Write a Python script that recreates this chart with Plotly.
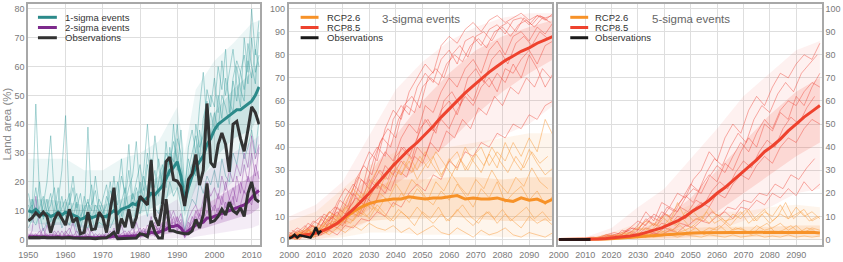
import plotly.graph_objects as go

# ---------------- DATA ----------------
years_hist = list(range(1950, 2013))
obs_1sigma = [6.5, 7.5, 9.3, 8, 9.5, 8, 2.4, 7, 9.5, 7,
              5, 10.5, 6, 7.6, 2, 2.5, 9.5, 3.4, 3.7, 9.5,
              7.6, 2.4, 10.5, 18, 2, 7.3, 4.3, 10.5, 4, 7.6,
              15, 13.6, 12, 27.6, 8, 4.8, 12, 27, 28.6, 20.8,
              20.3, 18.3, 11.6, 20.8, 22.8, 29.5, 18.9, 24, 47.2, 26.7,
              25, 33, 37, 33, 23.5, 40, 41, 35, 30.6, 38,
              46, 44, 40]
obs_2sigma = [0.6, 0.7, 0.7, 0.6, 0.8, 0.6, 0.5, 0.6, 0.7, 0.5,
              0.6, 0.7, 0.5, 0.4, 0.3, 0.4, 0.5, 0.3, 0.3, 0.4,
              0.5, 0.6, 1.5, 2.5, 0.3, 0.3, 0.4, 0.3, 0.3, 0.5,
              2, 1.7, 1, 6.5, 2.5, 0.5, 0.5, 14, 3, 3,
              2.5, 2.2, 2, 2, 3, 7, 4, 8.5, 19.5, 6,
              6.5, 8, 10.5, 8.5, 13, 10, 9, 11, 8, 16,
              20, 14, 13]
mean_1sigma = [10, 9.5, 10.5, 9, 8.5, 9, 8, 8.5, 9.5, 8.5,
               9.5, 9, 8.5, 8, 7, 7.5, 8.5, 7.5, 8, 8.5,
               8, 8, 9, 10, 9, 10.5, 11, 11.5, 12.5, 12,
               14, 13.5, 14.5, 16, 15.5, 17, 18.5, 21, 24, 25,
               27, 22, 13, 18, 22, 25, 27, 29, 33, 35,
               38, 40, 41, 42, 43, 44, 45, 45, 46, 47,
               48, 50, 53]
mean_2sigma = [1, 1, 1.2, 1, 0.9, 1, 0.8, 0.9, 1, 0.8,
               0.9, 1, 0.8, 0.7, 0.5, 0.6, 0.7, 0.6, 0.6, 0.7,
               0.7, 0.8, 0.9, 1.2, 0.8, 1, 1.1, 1, 1.2, 1.3,
               1.6, 1.6, 1.8, 2.5, 2.2, 2.5, 3, 3.5, 4.5, 4.5,
               5, 4, 2, 3, 4, 5, 5.5, 6, 7.5, 7.5,
               8, 8.5, 9, 9.5, 10, 10.5, 11, 11.5, 12, 13,
               14.5, 16, 17]

# a few individual model runs, 1-sigma events (1950-2012)
members_1sigma = [
    [12, 8, 47, 15, 9, 14, 6, 10, 18, 7,
     11, 16, 8, 13, 4, 9, 14, 7, 12, 10,
     8, 15, 11, 22, 9, 13, 18, 10, 16, 12,
     20, 14, 26, 18, 24, 15, 22, 30, 26, 34,
     28, 22, 10, 24, 30, 36, 28, 42, 48, 35,
     44, 38, 50, 46, 40, 55, 48, 58, 52, 62,
     56, 66, 60],
    [6, 14, 10, 20, 7, 11, 16, 8, 13, 24,
     43, 12, 18, 9, 6, 15, 10, 19, 8, 14,
     11, 7, 17, 13, 20, 8, 14, 24, 11, 18,
     13, 22, 16, 28, 12, 20, 26, 18, 32, 24,
     35, 30, 14, 20, 26, 22, 38, 30, 36, 44,
     38, 50, 42, 56, 48, 44, 60, 52, 48, 68,
     60, 54, 72],
    [16, 10, 18, 8, 12, 20, 36, 14, 9, 15,
     8, 13, 22, 11, 16, 7, 39, 12, 17, 9,
     14, 19, 10, 15, 12, 22, 16, 33, 14, 20,
     26, 17, 30, 21, 36, 25, 18, 34, 22, 40,
     24, 38, 18, 28, 22, 40, 32, 36, 52, 46,
     56, 44, 62, 50, 58, 66, 54, 46, 70, 58,
     80, 64, 76],
    [4, 7, 5, 9, 3, 6, 8, 5, 10, 4,
     7, 5, 9, 3, 1, 5, 4, 8, 3, 6,
     5, 9, 4, 7, 10, 6, 12, 8, 5, 11,
     9, 14, 8, 16, 11, 9, 15, 13, 20, 15,
     18, 12, 3, 10, 14, 12, 20, 16, 22, 19,
     24, 18, 28, 22, 20, 30, 26, 34, 28, 32,
     38, 30, 42],
    [10, 12, 8, 11, 15, 9, 12, 18, 7, 11,
     14, 9, 12, 16, 8, 11, 13, 10, 22, 12,
     9, 12, 20, 10, 16, 28, 12, 18, 22, 34,
     16, 24, 40, 22, 18, 28, 20, 24, 30, 27,
     40, 26, 16, 32, 38, 30, 46, 58, 40, 50,
     46, 60, 52, 66, 44, 56, 62, 58, 64, 54,
     70, 58, 64],
]
members_2sigma = [
    [0.5, 3, 15, 4, 1, 2, 0.5, 1, 3, 0.5,
     2, 4, 1, 0.5, 0, 1, 2, 0.5, 1, 0.5,
     1, 2, 0.5, 4, 1, 2, 3, 1, 2, 1,
     3, 2, 5, 3, 6, 2, 4, 8, 5, 6,
     5, 7, 2, 4, 6, 8, 5, 10, 14, 9,
     12, 9, 15, 11, 14, 18, 13, 20, 16, 22,
     18, 26, 21],
    [2, 0.5, 1, 3, 0.5, 5, 1, 2, 0.5, 1,
     0.5, 2, 6, 1, 0.5, 2, 1, 3, 0.5, 1,
     2, 0.5, 1, 2, 0.5, 5, 1, 3, 0.5, 6,
     2, 4, 1, 6, 3, 4, 2, 5, 10, 4,
     8, 4, 1, 6, 4, 10, 7, 9, 16, 12,
     10, 16, 12, 20, 14, 12, 22, 16, 26, 20,
     30, 22, 32],
    [1, 2, 0.5, 1, 4, 0.5, 2, 1, 0.5, 3,
     1, 0.5, 1, 3, 0.5, 1, 4, 0.5, 2, 1,
     0.5, 3, 1, 0.5, 2, 1, 0.5, 2, 4, 1,
     1, 3, 2, 8, 1, 3, 5, 3, 4, 8,
     3, 6, 0.5, 3, 8, 5, 9, 6, 10, 7,
     8, 11, 7, 13, 10, 15, 9, 12, 17, 14,
     12, 18, 15],
    [0.5, 1, 2, 0.5, 1, 1, 0.5, 3, 1, 0.5,
     3, 1, 0.5, 1, 2, 0.5, 1, 1, 0.5, 2,
     1, 1, 3, 1, 0.5, 1, 2, 0.5, 1, 2,
     4, 2, 3, 4, 5, 3, 6, 4, 7, 10,
     6, 9, 3, 7, 10, 12, 8, 14, 20, 15,
     18, 14, 22, 17, 24, 20, 26, 22, 30, 25,
     36, 28, 33],
]

# model spread envelopes, 1950-2012
band_years_hist = [1950, 1955, 1960, 1965, 1970, 1975, 1980, 1985, 1990, 1992, 1995, 2000, 2005, 2010, 2012]
s1_outer_hi = [28, 28, 28, 24, 24, 28, 30, 34, 46, 30, 52, 62, 68, 75, 76]
s1_outer_lo = [3, 2, 2, 1, 1, 2, 4, 6, 8, 2, 10, 14, 20, 26, 30]
s1_inner_hi = [14, 14, 13, 12, 12, 14, 17, 22, 32, 18, 32, 44, 52, 58, 62]
s1_inner_lo = [6, 5, 5, 4, 4, 6, 9, 12, 18, 8, 18, 28, 35, 38, 44]
s2_outer_hi = [5, 6, 6, 5, 5, 6, 8, 10, 14, 6, 20, 26, 30, 34, 36]
s2_outer_lo = [0, 0, 0, 0, 0, 0, 0, 0, 0.5, 0, 1, 2, 3, 4, 5]
s2_inner_hi = [2, 2, 2, 1.5, 1.5, 2, 3, 5, 8, 3, 10, 14, 18, 22, 24]
s2_inner_lo = [0.3, 0.3, 0.3, 0.2, 0.2, 0.3, 0.6, 1.5, 2.5, 0.8, 3, 5, 7, 9, 11]

# ---- projections (2000-2099) ----
years_obs_fut = list(range(2000, 2013))
obs_3sigma = [0.5, 1, 2, 0.8, 1.8, 1.5, 1.2, 1, 0.8, 2.5, 5.3, 2.5, 3.8]
obs_5sigma = [0, 0, 0, 0, 0, 0, 0, 0, 0, 0, 0, 0, 0]

years_fut = list(range(2000, 2100, 3))     # 34 years
years_fut_b = list(range(2001, 2100, 3))   # 33 years
years_fut_c = list(range(2002, 2100, 3))   # 33 years

mean_3sigma_rcp85 = [1, 1.5, 2, 2.5, 3.5, 5, 7, 10, 13, 16.5,
                     20, 24, 28, 32, 35.5, 39, 42, 45.5, 49, 53,
                     56.5, 60, 63.5, 66.5, 69.5, 72.5, 75, 77.5, 79.5, 81.5,
                     83, 85, 86.5, 88]
mean_3sigma_rcp26 = [1, 1.5, 2, 2.5, 3.5, 5, 7, 9.5, 12, 14,
                     15.5, 16.5, 17, 17.5, 17.5, 18.5, 18, 17.5, 18, 18,
                     18.5, 19, 17.5, 18, 17.5, 17.5, 18, 17, 16.5, 18,
                     17, 17.5, 16, 17.5]
mean_5sigma_rcp85 = [0, 0, 0, 0, 0, 0.2, 0.4, 0.7, 1, 1.5,
                     2, 3, 4, 5, 6.5, 8, 10, 12.5, 14.5, 17,
                     20, 22.5, 25.5, 28.5, 31.5, 34.5, 38, 40.5, 43.5, 47,
                     50, 53, 55.5, 58]
mean_5sigma_rcp26 = [0, 0, 0, 0, 0, 0.1, 0.2, 0.4, 0.6, 0.8,
                     1, 1.3, 1.6, 1.9, 2.2, 2.5, 2.7, 2.8, 2.9, 3,
                     3, 3.1, 3, 3, 3.1, 3, 3, 3.1, 3, 3,
                     3.2, 3, 3.1, 2.8]

members_3sigma_rcp85 = [
    [2, 5, 3, 8, 6, 12, 10, 18, 24, 20, 34, 40, 36, 52, 58, 54, 66, 72, 68, 78,
     82, 76, 86, 88, 84, 91, 93, 89, 95, 96, 93, 97, 95, 98],
    [1, 3, 6, 2, 9, 5, 14, 11, 16, 26, 22, 30, 38, 34, 44, 50, 46, 58, 55, 64,
     70, 66, 74, 78, 72, 82, 86, 80, 88, 90, 86, 92, 89, 94],
    [0, 2, 1, 4, 3, 7, 5, 9, 14, 11, 18, 24, 20, 28, 34, 30, 40, 36, 46, 52,
     48, 56, 62, 58, 66, 70, 64, 74, 72, 78, 82, 76, 84, 86],
    [1, 0, 3, 1, 2, 4, 2, 6, 5, 9, 8, 12, 10, 16, 14, 20, 24, 21, 28, 26,
     34, 31, 38, 36, 42, 40, 46, 44, 50, 48, 54, 52, 58, 60],
    [3, 1, 4, 6, 2, 8, 12, 7, 20, 16, 26, 22, 32, 28, 40, 36, 44, 52, 47, 56,
     60, 54, 64, 60, 70, 66, 72, 68, 76, 70, 80, 74, 66, 72],
    [0, 4, 2, 7, 10, 8, 16, 22, 19, 30, 38, 34, 48, 56, 52, 64, 70, 76, 72, 84,
     88, 85, 91, 94, 90, 95, 97, 94, 96, 98, 95, 97, 96, 97],
]
members_3sigma_rcp85_b = [
    [4, 2, 7, 5, 11, 9, 17, 14, 26, 32, 28, 42, 48, 44, 58, 62, 57, 70, 74, 70,
     80, 84, 79, 88, 90, 86, 92, 94, 90, 96, 93, 97, 95],
    [2, 0, 4, 2, 6, 10, 7, 13, 18, 15, 24, 30, 26, 36, 40, 35, 48, 52, 46, 60,
     64, 58, 70, 74, 68, 78, 82, 76, 85, 88, 84, 90, 87],
]
members_3sigma_rcp85_c = [
    [1, 3, 1, 5, 3, 8, 6, 12, 10, 18, 15, 24, 21, 30, 27, 36, 33, 42, 38, 47,
     44, 52, 48, 57, 54, 62, 58, 66, 63, 70, 66, 74, 70],
    [0, 3, 6, 4, 10, 14, 12, 20, 27, 24, 36, 44, 40, 52, 58, 55, 66, 70, 67, 76,
     80, 77, 84, 87, 83, 90, 92, 88, 93, 95, 92, 96, 94],
]
members_3sigma_rcp26 = [
    [1, 3, 2, 6, 4, 10, 8, 14, 12, 20, 18, 26, 22, 30, 28, 34, 26, 32, 36, 28,
     34, 38, 30, 36, 40, 32, 38, 34, 42, 36, 44, 38, 52, 45],
    [0, 2, 4, 1, 6, 5, 9, 7, 13, 10, 16, 12, 18, 14, 20, 16, 22, 18, 15, 21,
     17, 24, 19, 14, 22, 18, 25, 16, 20, 23, 17, 21, 15, 19],
    [2, 1, 3, 5, 3, 7, 6, 10, 8, 13, 9, 15, 11, 8, 12, 9, 14, 10, 7, 11,
     8, 13, 9, 6, 10, 12, 7, 11, 8, 5, 10, 7, 9, 6],
    [1, 0, 2, 1, 4, 2, 5, 3, 6, 4, 7, 5, 4, 6, 3, 5, 2, 4, 6, 3,
     2, 5, 3, 1, 4, 2, 3, 5, 2, 1, 3, 2, 1, 3],
    [0, 2, 5, 3, 8, 12, 9, 16, 22, 18, 24, 30, 26, 33, 28, 36, 30, 38, 32, 27,
     35, 30, 40, 34, 29, 37, 31, 42, 35, 30, 39, 33, 28, 31],
]
members_3sigma_rcp26_b = [
    [1, 3, 2, 5, 4, 8, 6, 12, 10, 16, 13, 20, 17, 24, 19, 26, 22, 17, 25, 21,
     28, 23, 19, 26, 22, 30, 24, 20, 27, 23, 31, 25, 22],
    [2, 1, 4, 3, 7, 11, 9, 15, 20, 17, 26, 22, 30, 27, 34, 29, 36, 31, 38, 33,
     28, 35, 30, 37, 32, 40, 34, 29, 36, 31, 38, 33, 36],
]
members_3sigma_rcp26_c = [
    [0, 2, 1, 4, 3, 6, 9, 7, 12, 10, 14, 11, 8, 13, 10, 6, 12, 9, 14, 8,
     11, 15, 10, 7, 12, 9, 13, 8, 11, 14, 9, 12, 8],
]
members_5sigma_rcp85 = [
    [0, 0, 0, 0.5, 0, 1, 2, 1, 4, 3, 6, 12, 8, 16, 14, 20, 18, 26, 30, 38,
     34, 44, 50, 46, 56, 62, 58, 66, 72, 70, 76, 80, 78, 85],
    [0, 0, 0, 0, 1, 0.5, 2, 3, 2, 5, 8, 6, 11, 9, 14, 12, 18, 22, 20, 27,
     32, 29, 36, 42, 38, 46, 52, 48, 56, 60, 58, 64, 68, 66],
    [0, 0, 0, 0, 0, 0.5, 0.5, 2, 1, 3, 2, 5, 4, 7, 6, 10, 9, 13, 16, 14,
     20, 18, 24, 28, 26, 32, 36, 33, 40, 44, 42, 48, 52, 50],
    [0, 0, 0, 0, 0, 0, 0.5, 0.5, 1, 0.5, 2, 1, 3, 2, 4, 3, 6, 5, 8, 7,
     10, 12, 9, 14, 13, 17, 15, 20, 18, 22, 19, 25, 21, 24],
    [0, 0, 0, 0, 0.5, 0, 1, 2, 3, 5, 4, 9, 6, 12, 10, 15, 19, 16, 23, 28,
     25, 33, 30, 38, 44, 40, 50, 47, 55, 52, 62, 58, 66, 72],
]
members_5sigma_rcp85_b = [
    [0, 0, 0, 0.5, 1, 0.5, 2, 1, 3, 5, 4, 8, 6, 11, 9, 14, 12, 17, 15, 21,
     25, 22, 29, 34, 31, 38, 43, 40, 48, 53, 50, 57, 62],
    [0, 0, 0, 0, 0, 0.5, 0, 1, 0.5, 2, 1.5, 3, 2.5, 5, 4, 7, 6, 9, 8, 12,
     10, 14, 13, 17, 16, 20, 19, 24, 22, 28, 26, 31, 35],
]
members_5sigma_rcp85_c = [
    [0, 0, 0, 0, 0.5, 1, 2, 1.5, 4, 3, 7, 10, 8, 14, 12, 18, 24, 21, 29, 35,
     32, 40, 46, 42, 52, 58, 55, 63, 68, 64, 72, 76, 80],
]
members_5sigma_rcp26 = [
    [0, 0, 0, 0, 0.5, 1, 2, 1, 3, 2, 5, 4, 7, 5, 9, 6, 12, 8, 10, 7,
     11, 8, 9, 12, 7, 10, 13, 8, 11, 9, 14, 10, 12, 9],
    [0, 0, 0, 0, 0, 0.5, 1, 0.5, 2, 1, 3, 2, 4, 3, 5, 3, 4, 6, 3, 5,
     4, 7, 4, 5, 3, 6, 4, 5, 7, 4, 6, 3, 5, 4],
    [0, 0, 0, 0, 0, 0, 0.5, 0.5, 1, 0.5, 1, 2, 1, 1.5, 2, 1, 2, 1.5, 1, 2,
     1.5, 1, 2, 1, 1.5, 2, 1, 1.5, 1, 2, 1, 1.5, 1, 1.5],
    [0, 0, 0, 0, 0.5, 0, 1, 2, 1.5, 3, 5, 8, 6, 10, 7, 16, 9, 12, 8, 14,
     10, 7, 11, 9, 13, 8, 12, 10, 15, 9, 11, 13, 8, 10],
]
members_5sigma_rcp26_b = [
    [0, 0, 0, 0, 0.5, 0, 1, 0.5, 2, 1.5, 3, 2, 5, 3, 4, 6, 3, 5, 2, 4,
     6, 3, 5, 4, 2, 5, 7, 3, 4, 6, 3, 5, 4],
]
members_5sigma_rcp26_c = [
    [0, 0, 0, 0, 0, 1, 0.5, 2, 3, 2, 5, 4, 7, 11, 6, 9, 5, 8, 12, 7,
     9, 6, 10, 13, 8, 11, 7, 10, 16, 9, 12, 8, 10],
]

band_years_fut = [2000, 2010, 2020, 2030, 2040, 2050, 2060, 2070, 2080, 2090, 2099]
s3_85_outer_hi = [10, 15, 25, 45, 65, 77, 86, 92, 96, 98, 98]
s3_85_outer_lo = [0, 0, 2, 8, 15, 25, 33, 40, 45, 50, 58]
s3_85_inner_hi = [3, 5, 14, 28, 45, 60, 72, 82, 88, 92, 95]
s3_85_inner_lo = [0.5, 1.5, 5, 13, 24, 32, 42, 54, 64, 72, 78]
s3_26_outer_hi = [8, 12, 22, 32, 38, 40, 40, 42, 44, 46, 46]
s3_26_outer_lo = [0, 0, 1, 3, 3, 2, 2, 2, 1, 1, 1]
s3_26_inner_hi = [3, 5, 13, 22, 26, 26, 27, 27, 26, 27, 27]
s3_26_inner_lo = [0.5, 1, 4, 8, 9, 9, 10, 9, 8, 8, 8]
s5_85_outer_hi = [0.5, 1, 5, 14, 22, 35, 48, 62, 72, 82, 86]
s5_85_outer_lo = [0, 0, 0, 0, 0, 1, 4, 8, 14, 20, 22]
s5_85_inner_hi = [0, 0.3, 1.5, 4, 9, 18, 30, 42, 54, 64, 70]
s5_85_inner_lo = [0, 0, 0.2, 0.8, 2, 6, 12, 20, 28, 36, 42]
s5_26_outer_hi = [0, 0.5, 3, 7, 10, 15, 12, 12, 14, 15, 14]
s5_26_outer_lo = [0, 0, 0, 0, 0, 0, 0, 0, 0, 0, 0]
s5_26_inner_hi = [0, 0.2, 1, 2.5, 4, 5, 5.5, 5.5, 5.5, 6, 6]
s5_26_inner_lo = [0, 0, 0.1, 0.3, 0.6, 1, 1.2, 1.2, 1.2, 1.2, 1.2]

ticks_hist = [1950, 1960, 1970, 1980, 1990, 2000, 2010]
ticks_fut = [2000, 2010, 2020, 2030, 2040, 2050, 2060, 2070, 2080, 2090]
ticks_y1 = list(range(0, 81, 10))
ticks_y2 = list(range(0, 101, 10))

# ---------------- STYLE ----------------
FONT = "Liberation Sans, Arial, sans-serif"
W, H = 843, 262
ML, MR, MT, MB = 28, 17, 2, 12
PW, PH = W - ML - MR, H - MT - MB
TICK_FONT = dict(family=FONT, size=9, color="#7a7a7a")


def pxx(x):
    return (x - ML) / PW


def pxy(y):
    return (H - MB - y) / PH


TEAL = "rgb(44,138,138)"
PURPLE = "rgb(125,42,140)"
OBS = "#333333"
ORANGE = "rgb(247,146,40)"
RED = "rgb(238,66,46)"
M_TEAL = "rgba(64,160,160,0.55)"
M_PURPLE = "rgba(140,60,160,0.5)"
M_RED = "rgba(240,70,55,0.55)"
M_ORANGE = "rgba(250,160,70,0.65)"

fig = go.Figure()


def add_line(x, y, xa, ya, color, width):
    fig.add_trace(go.Scatter(x=x, y=y, xaxis=xa, yaxis=ya, mode="lines",
                             line=dict(color=color, width=width),
                             hoverinfo="skip", showlegend=False))


def add_band(x, lo, hi, xa, ya, color):
    fig.add_trace(go.Scatter(x=list(x) + list(x)[::-1], y=list(hi) + list(lo)[::-1],
                             xaxis=xa, yaxis=ya, mode="lines", fill="toself",
                             fillcolor=color, line=dict(width=0),
                             hoverinfo="skip", showlegend=False))


# panel 1
add_band(band_years_hist, s1_outer_lo, s1_outer_hi, "x", "y", "rgba(70,165,165,0.10)")
add_band(band_years_hist, s1_inner_lo, s1_inner_hi, "x", "y", "rgba(60,150,150,0.18)")
for m in members_1sigma:
    add_line(years_hist, m, "x", "y", M_TEAL, 0.8)
add_band(band_years_hist, s2_outer_lo, s2_outer_hi, "x", "y", "rgba(150,70,170,0.10)")
add_band(band_years_hist, s2_inner_lo, s2_inner_hi, "x", "y", "rgba(140,55,160,0.22)")
for m in members_2sigma:
    add_line(years_hist, m, "x", "y", M_PURPLE, 0.8)
add_line(years_hist, mean_1sigma, "x", "y", TEAL, 3)
add_line(years_hist, mean_2sigma, "x", "y", PURPLE, 3)
add_line(years_hist, obs_1sigma, "x", "y", OBS, 3)
add_line(years_hist, obs_2sigma, "x", "y", OBS, 3)

# panel 2 (3-sigma)
add_band(band_years_fut, s3_85_outer_lo, s3_85_outer_hi, "x2", "y2", "rgba(240,80,60,0.08)")
add_band(band_years_fut, s3_85_inner_lo, s3_85_inner_hi, "x2", "y2", "rgba(240,75,55,0.15)")
add_band(band_years_fut, s3_26_outer_lo, s3_26_outer_hi, "x2", "y2", "rgba(250,160,70,0.10)")
add_band(band_years_fut, s3_26_inner_lo, s3_26_inner_hi, "x2", "y2", "rgba(250,150,60,0.18)")
for m in members_3sigma_rcp85:
    add_line(years_fut, m, "x2", "y2", M_RED, 0.8)
for m in members_3sigma_rcp85_b:
    add_line(years_fut_b, m, "x2", "y2", M_RED, 0.8)
for m in members_3sigma_rcp85_c:
    add_line(years_fut_c, m, "x2", "y2", M_RED, 0.8)
for m in members_3sigma_rcp26:
    add_line(years_fut, m, "x2", "y2", M_ORANGE, 0.8)
for m in members_3sigma_rcp26_b:
    add_line(years_fut_b, m, "x2", "y2", M_ORANGE, 0.8)
for m in members_3sigma_rcp26_c:
    add_line(years_fut_c, m, "x2", "y2", M_ORANGE, 0.8)
add_line(years_fut, mean_3sigma_rcp26, "x2", "y2", ORANGE, 3)
add_line(years_fut, mean_3sigma_rcp85, "x2", "y2", RED, 3)
add_line(years_obs_fut, obs_3sigma, "x2", "y2", "#1a1a1a", 2.5)

# panel 3 (5-sigma)
add_band(band_years_fut, s5_85_outer_lo, s5_85_outer_hi, "x3", "y3", "rgba(240,80,60,0.08)")
add_band(band_years_fut, s5_85_inner_lo, s5_85_inner_hi, "x3", "y3", "rgba(240,75,55,0.15)")
add_band(band_years_fut, s5_26_outer_lo, s5_26_outer_hi, "x3", "y3", "rgba(250,160,70,0.10)")
add_band(band_years_fut, s5_26_inner_lo, s5_26_inner_hi, "x3", "y3", "rgba(250,150,60,0.18)")
for m in members_5sigma_rcp85:
    add_line(years_fut, m, "x3", "y3", M_RED, 0.8)
for m in members_5sigma_rcp85_b:
    add_line(years_fut_b, m, "x3", "y3", M_RED, 0.8)
for m in members_5sigma_rcp85_c:
    add_line(years_fut_c, m, "x3", "y3", M_RED, 0.8)
for m in members_5sigma_rcp26:
    add_line(years_fut, m, "x3", "y3", M_ORANGE, 0.8)
for m in members_5sigma_rcp26_b:
    add_line(years_fut_b, m, "x3", "y3", M_ORANGE, 0.8)
for m in members_5sigma_rcp26_c:
    add_line(years_fut_c, m, "x3", "y3", M_ORANGE, 0.8)
add_line(years_fut, mean_5sigma_rcp26, "x3", "y3", ORANGE, 3)
add_line(years_fut, mean_5sigma_rcp85, "x3", "y3", RED, 3)
add_line(years_obs_fut, obs_5sigma, "x3", "y3", "#2a1515", 3)

axis_common = dict(showgrid=True, gridcolor="#dedede", gridwidth=1,
                   showline=True, linecolor="#a8a8a8", linewidth=1.5, mirror=True,
                   ticks="", zeroline=False, tickfont=TICK_FONT)

fig.update_layout(
    width=W, height=H,
    margin=dict(l=ML, r=MR, t=MT, b=MB),
    paper_bgcolor="white", plot_bgcolor="white",
    showlegend=False,
    font=dict(family=FONT),
    xaxis=dict(domain=[pxx(28), pxx(261)], range=[1949.9, 2012.2], tickvals=ticks_hist,
               anchor="y", **axis_common),
    yaxis=dict(domain=[0, 1], range=[-1.9, 81.7], tickvals=ticks_y1, anchor="x",
               side="left", **axis_common),
    xaxis2=dict(domain=[pxx(290), pxx(555)], range=[1999.8, 2098.7], tickvals=ticks_fut,
                anchor="y2", **axis_common),
    yaxis2=dict(domain=[0, 1], range=[-2.4, 102], tickvals=ticks_y2, anchor="x2",
                side="left", **axis_common),
    xaxis3=dict(domain=[pxx(561), pxx(826)], range=[1999.8, 2099.8], tickvals=ticks_fut,
                anchor="y3", **axis_common),
    yaxis3=dict(domain=[0, 1], range=[-2.4, 102], tickvals=ticks_y2, anchor="x3",
                side="right", **axis_common),
)

shapes = []
annotations = []


def legend(x0, x1, xt, items):
    rows = [15.7, 26.2, 36.7]
    for (label, color), yy in zip(items, rows):
        shapes.append(dict(type="line", xref="paper", yref="paper",
                           x0=pxx(x0), x1=pxx(x1), y0=pxy(yy), y1=pxy(yy),
                           line=dict(color=color, width=3)))
        annotations.append(dict(xref="paper", yref="paper", x=pxx(xt), y=pxy(yy),
                                text=label, showarrow=False, xanchor="left", yanchor="middle",
                                font=dict(family=FONT, size=9.5, color="#333333")))


legend(38, 57, 63, [("1-sigma events", TEAL), ("2-sigma events", PURPLE), ("Observations", OBS)])
legend(302, 320, 326, [("RCP2.6", ORANGE), ("RCP8.5", RED), ("Observations", "#1a1a1a")])
legend(573, 591, 596, [("RCP2.6", ORANGE), ("RCP8.5", RED), ("Observations", "#1a1a1a")])

annotations.append(dict(xref="paper", yref="paper", x=pxx(423), y=pxy(17), text="3-sigma events",
                        showarrow=False, xanchor="center", yanchor="middle",
                        font=dict(family=FONT, size=11.5, color="#666666")))
annotations.append(dict(xref="paper", yref="paper", x=pxx(694), y=pxy(17), text="5-sigma events",
                        showarrow=False, xanchor="center", yanchor="middle",
                        font=dict(family=FONT, size=11.5, color="#666666")))
annotations.append(dict(xref="paper", yref="paper", x=pxx(6), y=pxy(126), text="Land area (%)",
                        showarrow=False, xanchor="center", yanchor="middle", textangle=-90,
                        font=dict(family=FONT, size=11.5, color="#888888")))

fig.update_layout(shapes=shapes, annotations=annotations)
fig.write_html("out.html",
               config={"displayModeBar": False},
               post_script="document.body.style.margin='0';document.body.style.padding='0';"
                           "document.body.style.overflow='hidden';")
